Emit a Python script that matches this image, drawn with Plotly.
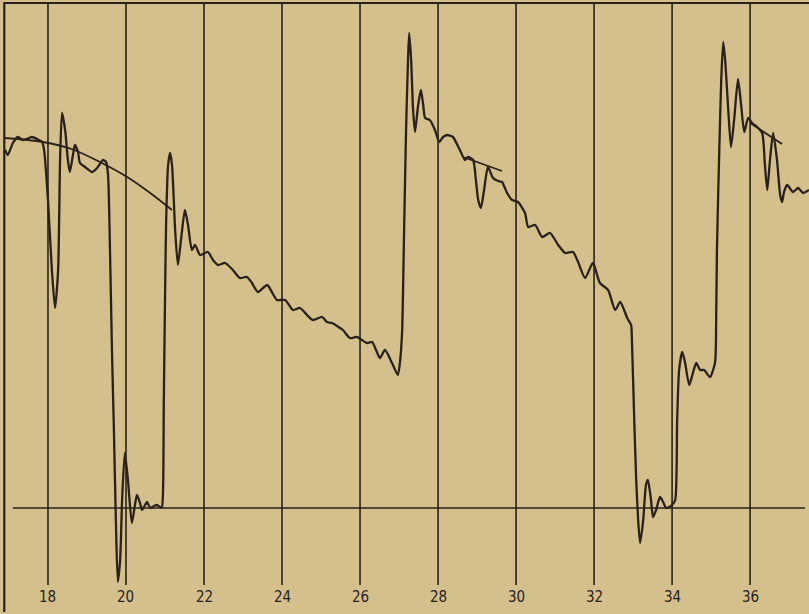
import plotly.graph_objects as go

# ---- data ----
tick_values = [18, 20, 22, 24, 26, 28, 30, 32, 34, 36]
tick_labels = ["18", "20", "22", "24", "26", "28", "30", "32", "34", "36"]

curve_x = [16.90, 16.97, 17.10, 17.23, 17.36, 17.59, 17.72, 17.85, 17.90, 18.00,
           18.10, 18.18, 18.26, 18.31, 18.36, 18.44, 18.51, 18.56, 18.64, 18.69,
           18.77, 18.82, 18.95, 19.13, 19.26, 19.41, 19.49, 19.54, 19.59, 19.64,
           19.69, 19.74, 19.79, 19.85, 19.90, 19.97, 20.05, 20.15, 20.23, 20.28,
           20.36, 20.41, 20.49, 20.54, 20.62, 20.72, 20.79, 20.87, 20.92, 20.95,
           20.97, 21.00, 21.03, 21.08, 21.13, 21.18, 21.26, 21.33, 21.41, 21.51,
           21.59, 21.69, 21.77, 21.90, 22.10, 22.23, 22.36, 22.54, 22.74, 22.92,
           23.10, 23.23, 23.38, 23.62, 23.74, 23.87, 24.08, 24.28, 24.46, 24.64,
           24.79, 25.03, 25.15, 25.28, 25.56, 25.74, 25.92, 26.18, 26.31, 26.41,
           26.51, 26.64, 26.82, 26.97, 27.03, 27.08, 27.13, 27.18, 27.23, 27.26,
           27.31, 27.36, 27.41, 27.49, 27.56, 27.62, 27.67, 27.79, 27.92, 28.03,
           28.13, 28.23, 28.38, 28.56, 28.69, 28.77, 28.90, 28.97, 29.03, 29.10,
           29.18, 29.28, 29.41, 29.54, 29.64, 29.77, 29.90, 30.05, 30.23, 30.31,
           30.49, 30.67, 30.87, 31.08, 31.26, 31.46, 31.59, 31.77, 31.97, 32.15,
           32.36, 32.54, 32.67, 32.85, 32.95, 32.97, 33.03, 33.08, 33.13, 33.18,
           33.26, 33.33, 33.38, 33.46, 33.51, 33.59, 33.69, 33.77, 33.85, 34.00,
           34.08, 34.13, 34.18, 34.26, 34.33, 34.44, 34.54, 34.62, 34.72, 34.82,
           34.97, 35.10, 35.13, 35.15, 35.21, 35.26, 35.31, 35.36, 35.44, 35.51,
           35.59, 35.69, 35.77, 35.85, 35.95, 36.05, 36.18, 36.31, 36.38, 36.44,
           36.51, 36.59, 36.69, 36.77, 36.82, 36.87, 36.95, 37.10, 37.23, 37.36,
           37.51]
curve_y = [35.8, 35.3, 36.5, 37.1, 36.8, 37.1, 36.9, 36.6, 35.8, 30.8,
           23.8, 20.0, 23.8, 34.8, 39.5, 37.8, 34.8, 33.6, 35.3, 36.3,
           35.6, 34.5, 34.1, 33.6, 34.0, 34.8, 34.6, 33.3, 25.8, 15.8,
           7.8, -1.2, -7.4, -5.2, 0.8, 5.5, 2.8, -1.5, 0.3, 1.3,
           0.5, -0.2, 0.3, 0.6, 0.0, 0.2, 0.3, 0.1, 0.1, 1.8,
           10.8, 20.8, 28.8, 34.3, 35.5, 34.3, 27.8, 24.3, 26.8, 29.8,
           28.3, 25.8, 26.3, 25.3, 25.6, 24.8, 24.3, 24.5, 23.8, 23.0,
           23.1, 22.5, 21.6, 22.3, 21.6, 20.8, 20.8, 19.8, 20.0, 19.3,
           18.8, 19.1, 18.6, 18.5, 17.8, 17.0, 17.1, 16.5, 16.6, 15.8,
           15.0, 15.8, 14.5, 13.3, 14.8, 17.8, 27.8, 37.8, 44.8, 47.5,
           44.8, 39.8, 37.6, 40.3, 41.8, 40.3, 39.0, 38.8, 37.8, 36.6,
           37.1, 37.3, 37.1, 35.8, 34.8, 35.1, 34.8, 32.8, 30.8, 30.0,
           31.8, 34.1, 33.0, 32.7, 32.6, 31.5, 30.8, 30.6, 29.5, 28.1,
           28.3, 27.1, 27.5, 26.3, 25.5, 25.6, 24.6, 23.0, 24.5, 22.5,
           21.8, 19.8, 20.6, 19.0, 18.3, 16.8, 8.8, 2.8, -1.2, -3.5,
           -1.2, 2.3, 2.8, 0.8, -0.9, -0.2, 1.1, 0.6, 0.0, 0.3,
           0.8, 8.8, 13.8, 15.6, 14.6, 12.3, 13.6, 14.5, 13.8, 13.8,
           13.1, 14.5, 18.8, 25.8, 35.8, 42.8, 46.6, 44.8, 39.8, 36.1,
           38.8, 42.9, 40.3, 37.6, 39.0, 38.5, 38.1, 37.5, 34.3, 31.8,
           34.8, 37.5, 34.8, 31.3, 30.6, 31.6, 32.3, 31.6, 32.0, 31.5,
           31.8]

arc1_x = [16.90, 17.87, 18.60, 19.33, 20.03, 20.62, 21.18]
arc1_y = [37.0, 36.6, 35.9, 34.6, 33.1, 31.5, 29.8]
arc2_x = [28.64, 29.64]
arc2_y = [35.1, 33.7]
arc3_x = [36.00, 36.82]
arc3_y = [38.5, 36.4]

baseline_x = [17.10, 37.41]
baseline_y = [0, 0]

grid_top = 50.5
grid_bottom = -7.7
frame_x = [16.88, 16.88, 37.51]
frame_y = [-10.4, 50.5, 50.5]
label_y = -8.9

INK = "#2b211a"
PAPER = "#d3c08c"

fig = go.Figure()

# vertical time lines
gx, gy = [], []
for v in tick_values:
    gx += [v, v, None]
    gy += [grid_bottom, grid_top, None]
fig.add_trace(go.Scatter(x=gx, y=gy, mode="lines",
                         line=dict(color=INK, width=1.6), hoverinfo="skip"))

# frame (left and top edges)
fig.add_trace(go.Scatter(x=frame_x, y=frame_y, mode="lines",
                         line=dict(color=INK, width=2.2), hoverinfo="skip"))

# zero line
fig.add_trace(go.Scatter(x=baseline_x, y=baseline_y, mode="lines",
                         line=dict(color=INK, width=1.6), hoverinfo="skip"))

# envelope arcs
for ax_, ay_ in [(arc1_x, arc1_y), (arc2_x, arc2_y), (arc3_x, arc3_y)]:
    fig.add_trace(go.Scatter(x=ax_, y=ay_, mode="lines",
                             line=dict(color=INK, width=1.8, shape="spline", smoothing=1.0),
                             hoverinfo="skip"))

# main trace
fig.add_trace(go.Scatter(x=curve_x, y=curve_y, mode="lines",
                         line=dict(color=INK, width=2.3, shape="spline", smoothing=0.6),
                         hoverinfo="skip"))

for v, t in zip(tick_values, tick_labels):
    fig.add_annotation(x=v, y=label_y, text=t, showarrow=False,
                       font=dict(family="Liberation Sans Narrow, DejaVu Sans Condensed, sans-serif",
                                 size=15, color=INK))

fig.update_layout(
    width=809, height=614,
    margin=dict(l=0, r=0, t=0, b=0),
    paper_bgcolor=PAPER, plot_bgcolor=PAPER,
    showlegend=False,
    xaxis=dict(range=[16.77, 37.51], visible=False, fixedrange=True),
    yaxis=dict(range=[-10.6, 50.8], visible=False, fixedrange=True),
)

fig.write_html("out.html", config={"displayModeBar": False},
               post_script="document.body.style.margin='0';document.body.style.overflow='hidden';")
